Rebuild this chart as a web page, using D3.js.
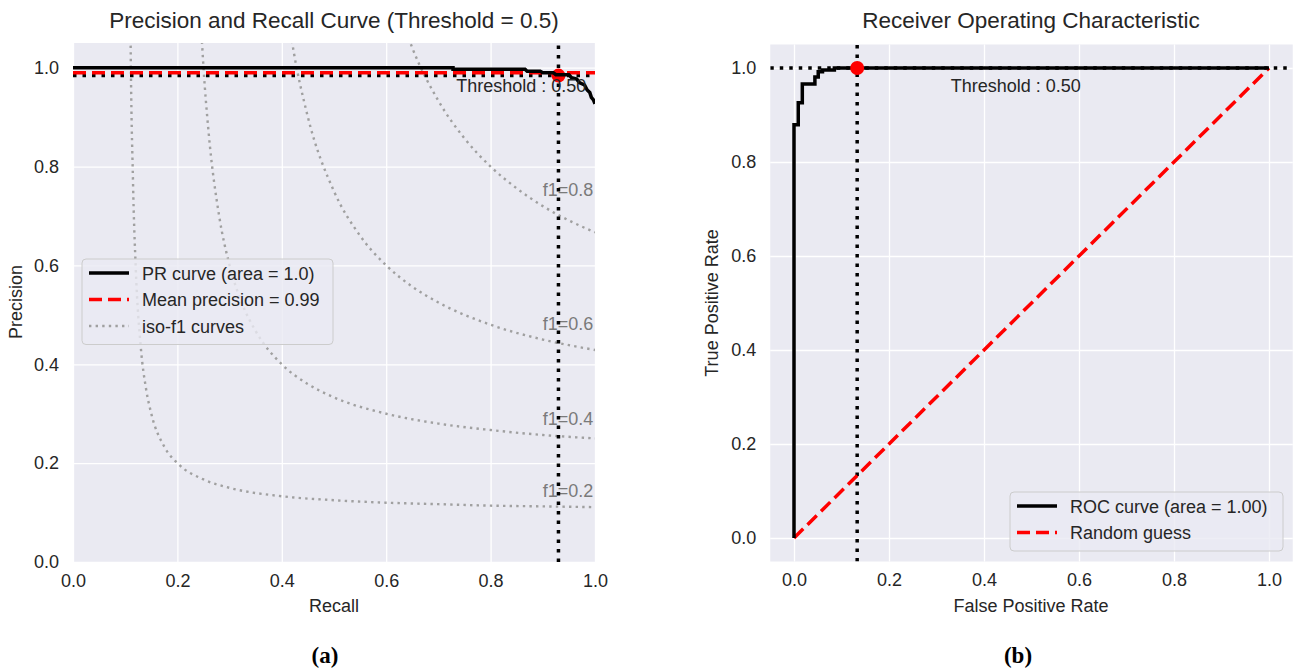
<!DOCTYPE html>
<html>
<head>
<meta charset="utf-8">
<script src="https://cdn.jsdelivr.net/npm/d3@7"></script>
<style>
  body { margin: 0; background: #fff; }
  text { font-family: "Liberation Sans", Arial, sans-serif; fill: #262626; }
  .caption { font-family: "Liberation Serif", "DejaVu Serif", serif; font-weight: bold; fill: #000; }
</style>
</head>
<body>
<div id="chart"></div>
<script>
// ticks
var xTicks = [0, 0.2, 0.4, 0.6, 0.8, 1.0];
var yTicks = [0, 0.2, 0.4, 0.6, 0.8, 1.0];

// (a) precision / recall
var prRecall    = [0, 0.728, 0.728, 0.866, 0.87, 0.895, 0.9, 0.92, 0.925, 0.95, 0.955, 0.965, 0.97, 0.98, 0.985, 0.99, 0.993, 0.997, 1.0];
var prPrecision = [1.0, 1.0, 0.997, 0.997, 0.993, 0.993, 0.99, 0.99, 0.986, 0.986, 0.98, 0.977, 0.97, 0.965, 0.955, 0.95, 0.94, 0.935, 0.927];
var meanPrecision = 0.99;
var prThrRecall = 0.93;
var prThrPrecision = 0.984;

// iso-f1 curves
var isoScores = [0.2, 0.4, 0.6, 0.8];
var iso02Recall    = [0.105, 0.11, 0.115, 0.12, 0.13, 0.14, 0.15, 0.175, 0.2, 0.25, 0.3, 0.4, 0.5, 0.6, 0.7, 0.8, 0.9, 1.0];
var iso02Precision = [2.1, 1.1, 0.767, 0.6, 0.433, 0.35, 0.3, 0.233, 0.2, 0.167, 0.15, 0.133, 0.125, 0.12, 0.117, 0.114, 0.1125, 0.111];
var iso04Recall    = [0.24, 0.25, 0.26, 0.28, 0.3, 0.325, 0.35, 0.4, 0.45, 0.5, 0.6, 0.7, 0.8, 0.9, 1.0];
var iso04Precision = [1.2, 1.0, 0.867, 0.7, 0.6, 0.52, 0.467, 0.4, 0.36, 0.333, 0.3, 0.28, 0.267, 0.257, 0.25];
var iso06Recall    = [0.4, 0.42, 0.45, 0.5, 0.55, 0.6, 0.65, 0.7, 0.8, 0.9, 1.0];
var iso06Precision = [1.2, 1.05, 0.9, 0.75, 0.66, 0.6, 0.557, 0.525, 0.48, 0.45, 0.429];
var iso08Recall    = [0.6, 0.65, 0.7, 0.75, 0.8, 0.85, 0.9, 0.95, 1.0];
var iso08Precision = [1.2, 1.04, 0.933, 0.857, 0.8, 0.756, 0.72, 0.691, 0.667];
var isoLabelY = [0.1325, 0.277, 0.47, 0.74];

// (b) ROC
var rocFpr = [0, 0, 0.009, 0.009, 0.0175, 0.0175, 0.044, 0.044, 0.051, 0.051, 0.060, 0.060, 0.085, 0.085, 1.0];
var rocTpr = [0, 0.879, 0.879, 0.926, 0.926, 0.966, 0.966, 0.981, 0.981, 0.992, 0.992, 0.996, 0.996, 1.0, 1.0];
var guessFpr = [0, 1];
var guessTpr = [0, 1];
var rocThrFpr = 0.133;
var rocThrTpr = 1.0;

var prLegend = ["PR curve (area = 1.0)", "Mean precision = 0.99", "iso-f1 curves"];
var rocLegend = ["ROC curve (area = 1.00)", "Random guess"];

function init() {
    var w = 1296;
    var h = 669;
    var bg = "#eaeaf2";

    var svg = d3.select("#chart")
            .append("svg")
            .attr("width", w)
            .attr("height", h);

    function zip(a, b) { return a.map(function(v, i) { return [v, b[i]]; }); }

    function panel(xScale, yScale, id) {
        var g = svg.append("g");
        var x0 = xScale.range()[0], x1 = xScale.range()[1];
        var y0 = yScale.range()[0], y1 = yScale.range()[1];
        g.append("rect")
            .attr("x", x0).attr("y", y1)
            .attr("width", x1 - x0).attr("height", y0 - y1)
            .attr("fill", bg);
        svg.append("clipPath").attr("id", id)
            .append("rect")
            .attr("x", x0).attr("y", y1)
            .attr("width", x1 - x0).attr("height", y0 - y1);

        var xAxis = d3.axisBottom(xScale).tickValues(xTicks).tickFormat(d3.format(".1f"))
            .tickSize(-(y0 - y1)).tickPadding(12);
        var yAxis = d3.axisLeft(yScale).tickValues(yTicks).tickFormat(d3.format(".1f"))
            .tickSize(-(x1 - x0)).tickPadding(14);

        var gx = g.append("g").attr("transform", "translate(0," + y0 + ")").call(xAxis);
        var gy = g.append("g").attr("transform", "translate(" + x0 + ",0)").call(yAxis);
        [gx, gy].forEach(function(a) {
            a.select(".domain").remove();
            a.selectAll("line").attr("stroke", "#fff").attr("stroke-width", 1.3);
            a.selectAll("text").attr("fill", "#262626").style("font-size", "18px")
                .style("font-family", "'Liberation Sans', Arial, sans-serif");
        });
        var plot = g.append("g").attr("clip-path", "url(#" + id + ")");
        return plot;
    }

    function legend(x, y, wd, labels, styles) {
        var lg = svg.append("g").attr("transform", "translate(" + x + "," + y + ")");
        lg.append("rect")
            .attr("width", wd).attr("height", labels.length * 26.5 + 6)
            .attr("rx", 4)
            .attr("fill", bg).attr("fill-opacity", 0.8)
            .attr("stroke", "#cccccc").attr("stroke-width", 1);
        labels.forEach(function(t, i) {
            var cy = 14 + i * 26.5;
            var s = styles[i];
            lg.append("line")
                .attr("x1", 7).attr("x2", 47).attr("y1", cy).attr("y2", cy)
                .attr("stroke", s.c).attr("stroke-width", s.w)
                .attr("stroke-dasharray", s.d);
            lg.append("text").attr("x", 60).attr("y", cy + 6.5)
                .style("font-size", "18px").text(t);
        });
    }

    var line = d3.line();

    // ---------- (a) ----------
    var xA = d3.scaleLinear().domain([0, 1]).range([73, 595]);
    var yA = d3.scaleLinear().domain([0, 1.05]).range([562, 43]);
    var pa = panel(xA, yA, "clipA");

    var isoR = [iso02Recall, iso04Recall, iso06Recall, iso08Recall];
    var isoP = [iso02Precision, iso04Precision, iso06Precision, iso08Precision];
    isoScores.forEach(function(f, i) {
        pa.append("path")
            .datum(zip(isoR[i], isoP[i]))
            .attr("d", d3.line().x(function(d) { return xA(d[0]); })
                .y(function(d) { return yA(d[1]); }).curve(d3.curveMonotoneX))
            .attr("fill", "none").attr("stroke", "#a0a0a0").attr("stroke-width", 2.4)
            .attr("stroke-dasharray", "2.4,4.2");
        pa.append("text")
            .attr("x", xA(0.9)).attr("y", yA(isoLabelY[i]))
            .attr("fill", "#7a7a7a").style("fill", "#7a7a7a")
            .style("font-size", "18px")
            .text("f1=" + f);
    });

    pa.append("line")
        .attr("x1", xA(0)).attr("x2", xA(1))
        .attr("y1", yA(prThrPrecision)).attr("y2", yA(prThrPrecision))
        .attr("stroke", "#000").attr("stroke-width", 3.5).attr("stroke-dasharray", "3.5,6");
    pa.append("line")
        .attr("x1", xA(prThrRecall)).attr("x2", xA(prThrRecall))
        .attr("y1", yA(0)).attr("y2", yA(1.05))
        .attr("stroke", "#000").attr("stroke-width", 3.5).attr("stroke-dasharray", "3.5,6");
    pa.append("line")
        .attr("x1", xA(0)).attr("x2", xA(1))
        .attr("y1", yA(meanPrecision)).attr("y2", yA(meanPrecision))
        .attr("stroke", "#ff0000").attr("stroke-width", 3.5).attr("stroke-dasharray", "13,6");
    pa.append("circle")
        .attr("cx", xA(prThrRecall)).attr("cy", yA(prThrPrecision)).attr("r", 7)
        .attr("fill", "#ff0000");
    pa.append("path")
        .datum(zip(prRecall, prPrecision))
        .attr("d", line.x(function(d) { return xA(d[0]); }).y(function(d) { return yA(d[1]); }))
        .attr("fill", "none").attr("stroke", "#000").attr("stroke-width", 3.5);
    svg.append("text")
        .attr("x", xA(0.734)).attr("y", yA(0.951))
        .style("font-size", "18px")
        .text("Threshold : 0.50");

    svg.append("text").attr("x", 334).attr("y", 28).attr("text-anchor", "middle")
        .style("font-size", "22.5px").text("Precision and Recall Curve (Threshold = 0.5)");
    svg.append("text").attr("x", 334).attr("y", 612).attr("text-anchor", "middle")
        .style("font-size", "18px").text("Recall");
    svg.append("text").attr("transform", "translate(22,302) rotate(-90)").attr("text-anchor", "middle")
        .style("font-size", "18px").text("Precision");

    legend(82, 259, 251, prLegend, [
        {c: "#000", w: 3.5, d: null},
        {c: "#ff0000", w: 3.5, d: "13,6"},
        {c: "#a0a0a0", w: 2.4, d: "2.4,4.2"}
    ]);

    // ---------- (b) ----------
    var xB = d3.scaleLinear().domain([-0.05, 1.05]).range([770.25, 1292.75]);
    var yB = d3.scaleLinear().domain([-0.05, 1.05]).range([561.5, 44.5]);
    var pb = panel(xB, yB, "clipB");

    pb.append("line")
        .attr("x1", xB(-0.05)).attr("x2", xB(1.05))
        .attr("y1", yB(rocThrTpr)).attr("y2", yB(rocThrTpr))
        .attr("stroke", "#000").attr("stroke-width", 3.5).attr("stroke-dasharray", "3.5,6");
    pb.append("line")
        .attr("x1", xB(rocThrFpr)).attr("x2", xB(rocThrFpr))
        .attr("y1", yB(-0.05)).attr("y2", yB(1.05))
        .attr("stroke", "#000").attr("stroke-width", 3.5).attr("stroke-dasharray", "3.5,6");
    pb.append("path")
        .datum(zip(guessFpr, guessTpr))
        .attr("d", d3.line().x(function(d) { return xB(d[0]); }).y(function(d) { return yB(d[1]); }))
        .attr("fill", "none").attr("stroke", "#ff0000").attr("stroke-width", 3.5)
        .attr("stroke-dasharray", "13,6");
    pb.append("path")
        .datum(zip(rocFpr, rocTpr))
        .attr("d", d3.line().x(function(d) { return xB(d[0]); }).y(function(d) { return yB(d[1]); }))
        .attr("fill", "none").attr("stroke", "#000").attr("stroke-width", 3.5);
    pb.append("circle")
        .attr("cx", xB(rocThrFpr)).attr("cy", yB(rocThrTpr)).attr("r", 7)
        .attr("fill", "#ff0000");
    svg.append("text")
        .attr("x", xB(0.33)).attr("y", yB(0.949))
        .style("font-size", "18px")
        .text("Threshold : 0.50");

    svg.append("text").attr("x", 1031).attr("y", 28).attr("text-anchor", "middle")
        .style("font-size", "22.5px").text("Receiver Operating Characteristic");
    svg.append("text").attr("x", 1031).attr("y", 612).attr("text-anchor", "middle")
        .style("font-size", "18px").text("False Positive Rate");
    svg.append("text").attr("transform", "translate(718,303) rotate(-90)").attr("text-anchor", "middle")
        .style("font-size", "18px").text("True Positive Rate");

    legend(1010, 492, 273, rocLegend, [
        {c: "#000", w: 3.5, d: null},
        {c: "#ff0000", w: 3.5, d: "13,6"}
    ]);

    // captions
    svg.append("text").attr("class", "caption").attr("x", 325).attr("y", 663)
        .attr("text-anchor", "middle").style("font-size", "23px").text("(a)");
    svg.append("text").attr("class", "caption").attr("x", 1018).attr("y", 663)
        .attr("text-anchor", "middle").style("font-size", "23px").text("(b)");
}

window.onload = init;
</script>
</body>
</html>
